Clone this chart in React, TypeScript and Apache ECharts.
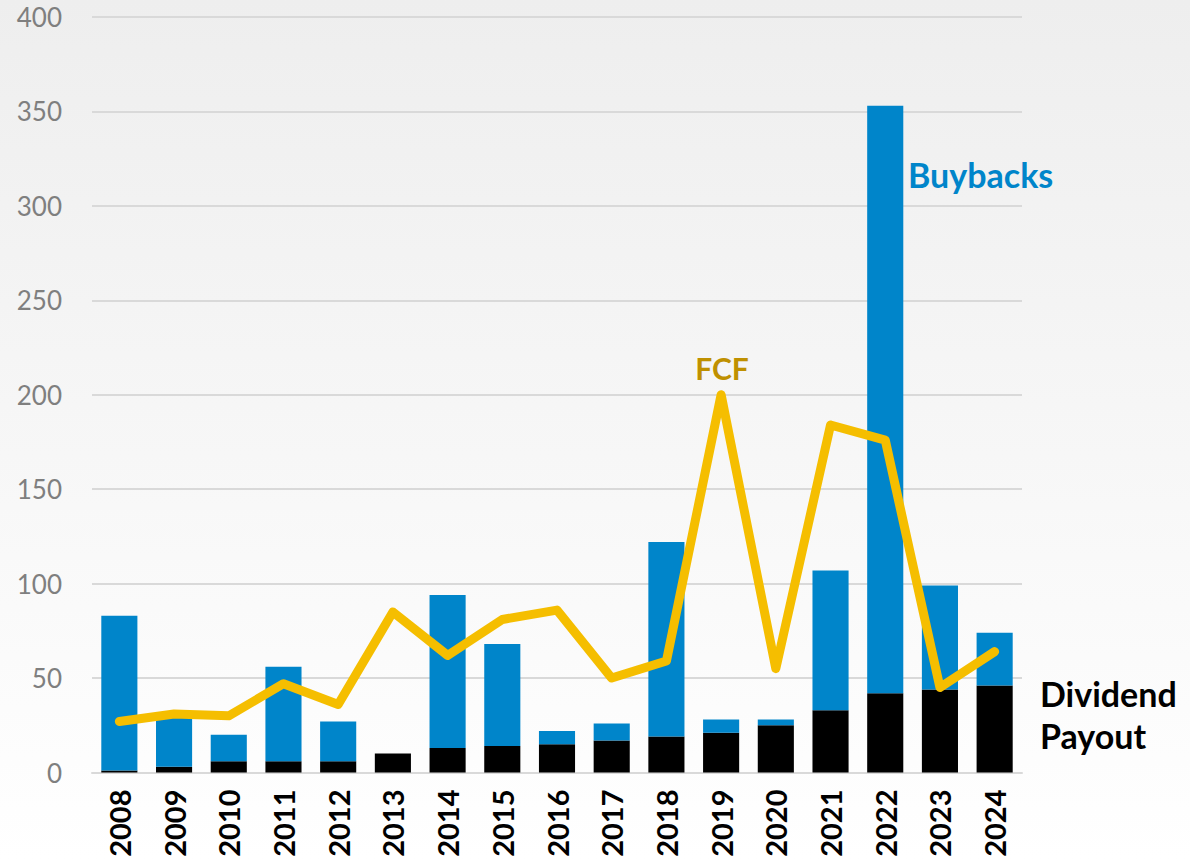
import React, { useEffect, useRef } from "react";
import * as echarts from "echarts";

const years = ["2008","2009","2010","2011","2012","2013","2014","2015","2016","2017","2018","2019","2020","2021","2022","2023","2024"];
const dividends = [1, 3, 6, 6, 6, 10, 13, 14, 15, 17, 19, 21, 25, 33, 42, 44, 46];
const buybacks = [82, 26, 14, 50, 21, 0, 81, 54, 7, 9, 103, 7, 3, 74, 311, 55, 28];
const fcf = [27, 31, 30, 47, 36, 85, 62, 81, 86, 50, 59, 200, 55, 184, 176, 45, 64];
const yTicks = { min: 0, max: 400, interval: 50 };

const FONT = "Lato, 'Open Sans', sans-serif";

export default function App() {
  const ref = useRef<HTMLDivElement>(null);
  useEffect(() => {
    if (!ref.current) return;
    const chart = echarts.init(ref.current, undefined, { renderer: "svg" });
    chart.setOption({
      animation: false,
      backgroundColor: new echarts.graphic.LinearGradient(0, 0, 0, 1, [
        { offset: 0, color: "#eeeeee" },
        { offset: 1, color: "#ffffff" },
      ]),
      grid: { left: 92, right: 168, top: 17, bottom: 87.5 },
      xAxis: {
        type: "category",
        data: years,
        axisLine: { lineStyle: { color: "#d9d9d9", width: 2 } },
        axisTick: { show: false },
        axisLabel: {
          rotate: 90,
          fontSize: 29,
          fontWeight: "bold",
          color: "#000000",
          fontFamily: FONT,
          margin: 17,
        },
      },
      yAxis: {
        type: "value",
        min: yTicks.min,
        max: yTicks.max,
        interval: yTicks.interval,
        axisLine: { show: false },
        axisTick: { show: false },
        splitLine: { lineStyle: { color: "#d9d9d9", width: 2 } },
        axisLabel: { fontSize: 26, color: "#7f7f7f", fontFamily: FONT, margin: 30 },
      },
      series: [
        {
          name: "Dividend Payout",
          type: "bar",
          stack: "total",
          data: dividends,
          barCategoryGap: "34%",
          itemStyle: { color: "#000000" },
        },
        {
          name: "Buybacks",
          type: "bar",
          stack: "total",
          data: buybacks,
          itemStyle: { color: "#0085CA" },
        },
        {
          name: "FCF",
          type: "line",
          data: fcf,
          symbol: "none",
          z: 5,
          lineStyle: { color: "#F5BE00", width: 9, join: "round", cap: "round" },
        },
      ],
      graphic: [
        {
          type: "text",
          x: 908,
          y: 174,
          style: { text: "Buybacks", fill: "#0085CA", font: `bold 34px ${FONT}`, align: "left", verticalAlign: "middle" },
        },
        {
          type: "text",
          x: 722,
          y: 368,
          style: { text: "FCF", fill: "#BF9000", font: `bold 30px ${FONT}`, align: "center", verticalAlign: "middle" },
        },
        {
          type: "text",
          x: 1040,
          y: 693,
          style: { text: "Dividend", fill: "#000000", font: `bold 34px ${FONT}`, align: "left", verticalAlign: "middle" },
        },
        {
          type: "text",
          x: 1040,
          y: 735,
          style: { text: "Payout", fill: "#000000", font: `bold 34px ${FONT}`, align: "left", verticalAlign: "middle" },
        },
      ],
    });
    return () => chart.dispose();
  }, []);
  return <div ref={ref} style={{ width: 1190, height: 860, position: "fixed", left: 0, top: 0 }} />;
}
